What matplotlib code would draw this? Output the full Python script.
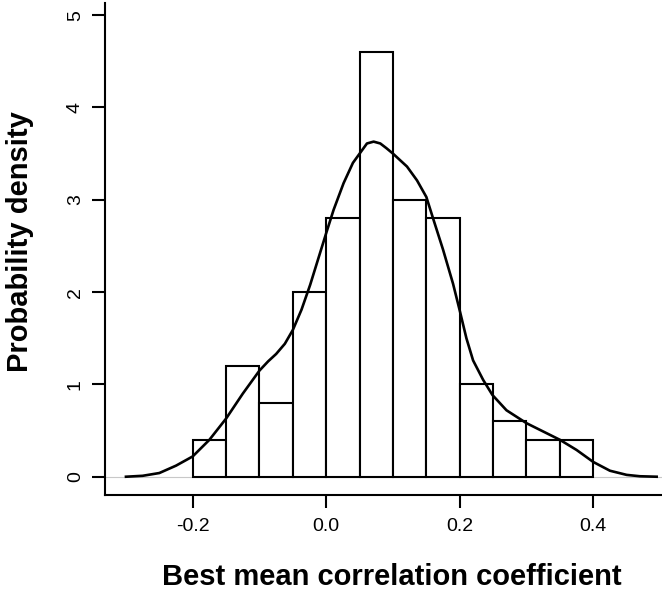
import matplotlib
matplotlib.use("Agg")
import matplotlib.pyplot as plt
import numpy as np

# Histogram bins (edges) and densities
bin_edges = [-0.20, -0.15, -0.10, -0.05, 0.00, 0.05, 0.10, 0.15, 0.20, 0.25, 0.30, 0.35, 0.40]
bar_heights = [0.4, 1.2, 0.8, 2.0, 2.8, 4.6, 3.0, 2.8, 1.0, 0.6, 0.4, 0.4]

# Kernel density curve
dens_x = [-0.300, -0.275, -0.250, -0.225, -0.200, -0.175, -0.150, -0.125, -0.100, -0.087,
          -0.075, -0.062, -0.050, -0.037, -0.024, -0.012, 0.000, 0.011, 0.026, 0.040,
          0.050, 0.061, 0.071, 0.081, 0.090, 0.100, 0.121, 0.136, 0.150, 0.160,
          0.175, 0.190, 0.200, 0.210, 0.220, 0.235, 0.249, 0.270, 0.300, 0.325,
          0.350, 0.375, 0.400, 0.425, 0.450, 0.470, 0.495]
dens_y = [0.00, 0.01, 0.04, 0.12, 0.22, 0.40, 0.63, 0.90, 1.15, 1.25,
          1.33, 1.44, 1.59, 1.81, 2.08, 2.36, 2.64, 2.89, 3.18, 3.40,
          3.50, 3.61, 3.63, 3.61, 3.56, 3.50, 3.36, 3.21, 3.03, 2.80,
          2.46, 2.09, 1.80, 1.50, 1.26, 1.05, 0.885, 0.72, 0.58, 0.49,
          0.40, 0.29, 0.16, 0.065, 0.02, 0.005, 0.00]

x_ticks = [-0.2, 0.0, 0.2, 0.4]
x_ticklabels = ["-0.2", "0.0", "0.2", "0.4"]
y_ticks = [0, 1, 2, 3, 4, 5]
y_ticklabels = ["0", "1", "2", "3", "4", "5"]

plt.rcParams['font.family'] = ['Liberation Sans', 'DejaVu Sans']

W, H = 662, 591
fig = plt.figure(figsize=(W / 100, H / 100), dpi=100)
left_px, right_px, bottom_px, top_px = 105, 662, 495, 2.7
ax = fig.add_axes([left_px / W, 1 - bottom_px / H, (right_px - left_px) / W, (bottom_px - top_px) / H])

ax.set_xlim(-0.3314, 0.503)
ax.set_ylim(-0.198, 5.135)

ax.axhline(0, color='#c8c8c8', lw=0.8, zorder=1)

widths = np.diff(bin_edges)
ax.bar(bin_edges[:-1], bar_heights, width=widths, align='edge', facecolor='white',
       edgecolor='black', linewidth=1.5, zorder=2)
ax.plot(dens_x, dens_y, color='black', lw=1.9, zorder=3, solid_joinstyle='round')

for s in ['top', 'right']:
    ax.spines[s].set_visible(False)
for s in ['left', 'bottom']:
    ax.spines[s].set_linewidth(1.5)

ax.set_xticks(x_ticks)
ax.set_xticklabels(x_ticklabels)
ax.set_yticks(y_ticks)
ax.set_yticklabels(y_ticklabels)
ax.tick_params(axis='both', direction='out', length=9.4, width=1.5, labelsize=14)
ax.tick_params(axis='x', pad=13)
ax.tick_params(axis='y', pad=12, labelrotation=90)
for lab in ax.get_xticklabels():
    lab.set_va('center')
for lab in ax.get_yticklabels():
    lab.set_ha('center')
    lab.set_va('center')

ax.set_xlabel("Best mean correlation coefficient", fontsize=21, fontweight='bold')
ax.xaxis.set_label_coords((391.5 - left_px) / (right_px - left_px), -(577 - bottom_px) / (bottom_px - top_px))
ax.xaxis.label.set_va('center')
ax.set_ylabel("Probability density", fontsize=21, fontweight='bold')
ax.yaxis.set_label_coords(-(105 - 20) / (right_px - left_px), (bottom_px - 242) / (bottom_px - top_px))
ax.yaxis.label.set_va('center')

fig.savefig("out.png", dpi=100)
